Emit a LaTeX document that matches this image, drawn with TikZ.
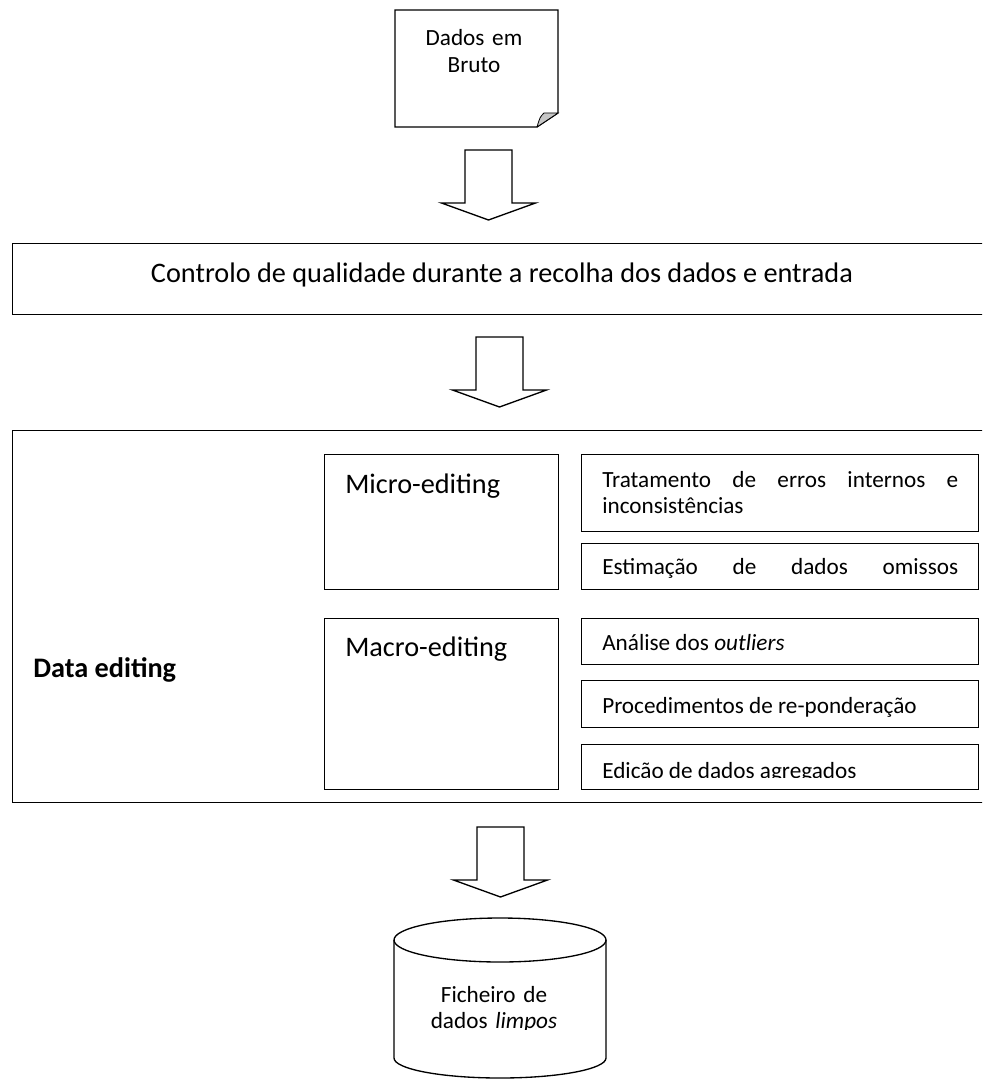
\documentclass[tikz,border=0pt]{standalone}
\usepackage{fontspec}
\setmainfont{Carlito}

\tikzset{
    line/.style={line width=1pt},
    box/.style 2 args={draw, line width=1pt, anchor=north west, inner sep=0pt,
        minimum width=#1*0.75pt, minimum height=#2*0.75pt},
    smalltext/.style={font=\fontsize{17.4}{19.8}\selectfont, inner sep=0pt},
    bigtext/.style={font=\fontsize{21.2}{25}\selectfont, inner sep=0pt}
}
\newcommand{\blockarrow}[1]{%
    \draw[line, fill=white] (#1) ++(-23.5,0) -- ++(47,0) -- ++(0,-53) -- ++(23.5,0)
        -- ++(-47,-17) -- ++(-47,17) -- ++(23.5,0) -- cycle;}

\begin{document}
\begin{tikzpicture}[x=0.75pt, y=0.75pt]
        \useasboundingbox (0,0) rectangle (982,-1080);
        \clip (0,0) rectangle (982,-1080);

        % raw data sheet
        \draw[line] (395,-10) -- (558,-10) -- (558,-113) -- (537,-127) -- (395,-127) -- cycle;
        \filldraw[line width=0.6pt, fill=gray!45] (537,-127) -- (558,-113) -- (544,-113) .. controls (540,-117) .. (537,-127);
        \node[smalltext, text width=150pt, align=center, anchor=base] (raw) at (474,-46) {Dados em\\Bruto};

        \coordinate (a1) at (488.5,-150);
        \blockarrow{a1}

        % quality control
        \node[box={1000}{71}] (qc) at (12,-243) {};
        \node[bigtext, anchor=base] (qctext) at (502,-282) {Controlo de qualidade durante a recolha dos dados e entrada};

        \coordinate (a2) at (499.5,-337);
        \blockarrow{a2}

        % data editing
        \node[box={1000}{372}] (de) at (12,-430) {};
        \node[bigtext, font=\fontsize{21.2}{25}\selectfont\bfseries, anchor=base west] (detext) at (33,-677) {Data editing};
        \node[box={234}{135}] (micro) at (324,-454) {};
        \node[box={234}{171}] (macro) at (324,-618) {};
        \node[bigtext, anchor=base west] (microtext) at (345,-493) {Micro-editing};
        \node[bigtext, anchor=base west] (macrotext) at (345,-656) {Macro-editing};

        \node[box={397}{77}] (err) at (581,-454) {};
        \node[box={397}{46}] (miss) at (581,-543) {};
        \node[box={397}{46}] (outl) at (581,-618) {};
        \node[box={397}{47}] (rew) at (581,-680) {};
        \node[box={397}{45}] (agg) at (581,-744) {};
        \node[smalltext, font=\fontsize{17.4}{20.2}\selectfont, text width=267pt, anchor=base west] (errtext) at (602,-487)
            {Tratamento\hfill de\hfill erros\hfill internos\hfill e\\inconsistências};
        \node[smalltext, text width=267pt, anchor=base west] (misstext) at (602,-574)
            {Estimação\hfill de\hfill dados\hfill omissos};
        \node[smalltext, anchor=base west] (outltext) at (602,-650) {Análise dos \textit{outliers}};
        \node[smalltext, anchor=base west] (rewtext) at (602,-713) {Procedimentos de re-ponderação};
        \begin{scope}
            \clip (581,-744) rectangle (978,-777);
            \node[smalltext, anchor=base west] (aggtext) at (602,-778) {Edição de dados agregados};
        \end{scope}

        \coordinate (a3) at (500.5,-827);
        \blockarrow{a3}

        % clean data file
        \draw[line] (394,-940) -- (394,-1058) arc[start angle=180, end angle=360, x radius=106, y radius=20] -- (606,-940);
        \draw[line] (500,-940) ellipse [x radius=106, y radius=22];
        \begin{scope}
            \clip (394,-962) rectangle (606,-1029);
            \node[smalltext, text width=150pt, align=center, anchor=base] (db) at (494,-1002) {Ficheiro de\\dados \textit{limpos}};
        \end{scope}
\end{tikzpicture}
\end{document}
